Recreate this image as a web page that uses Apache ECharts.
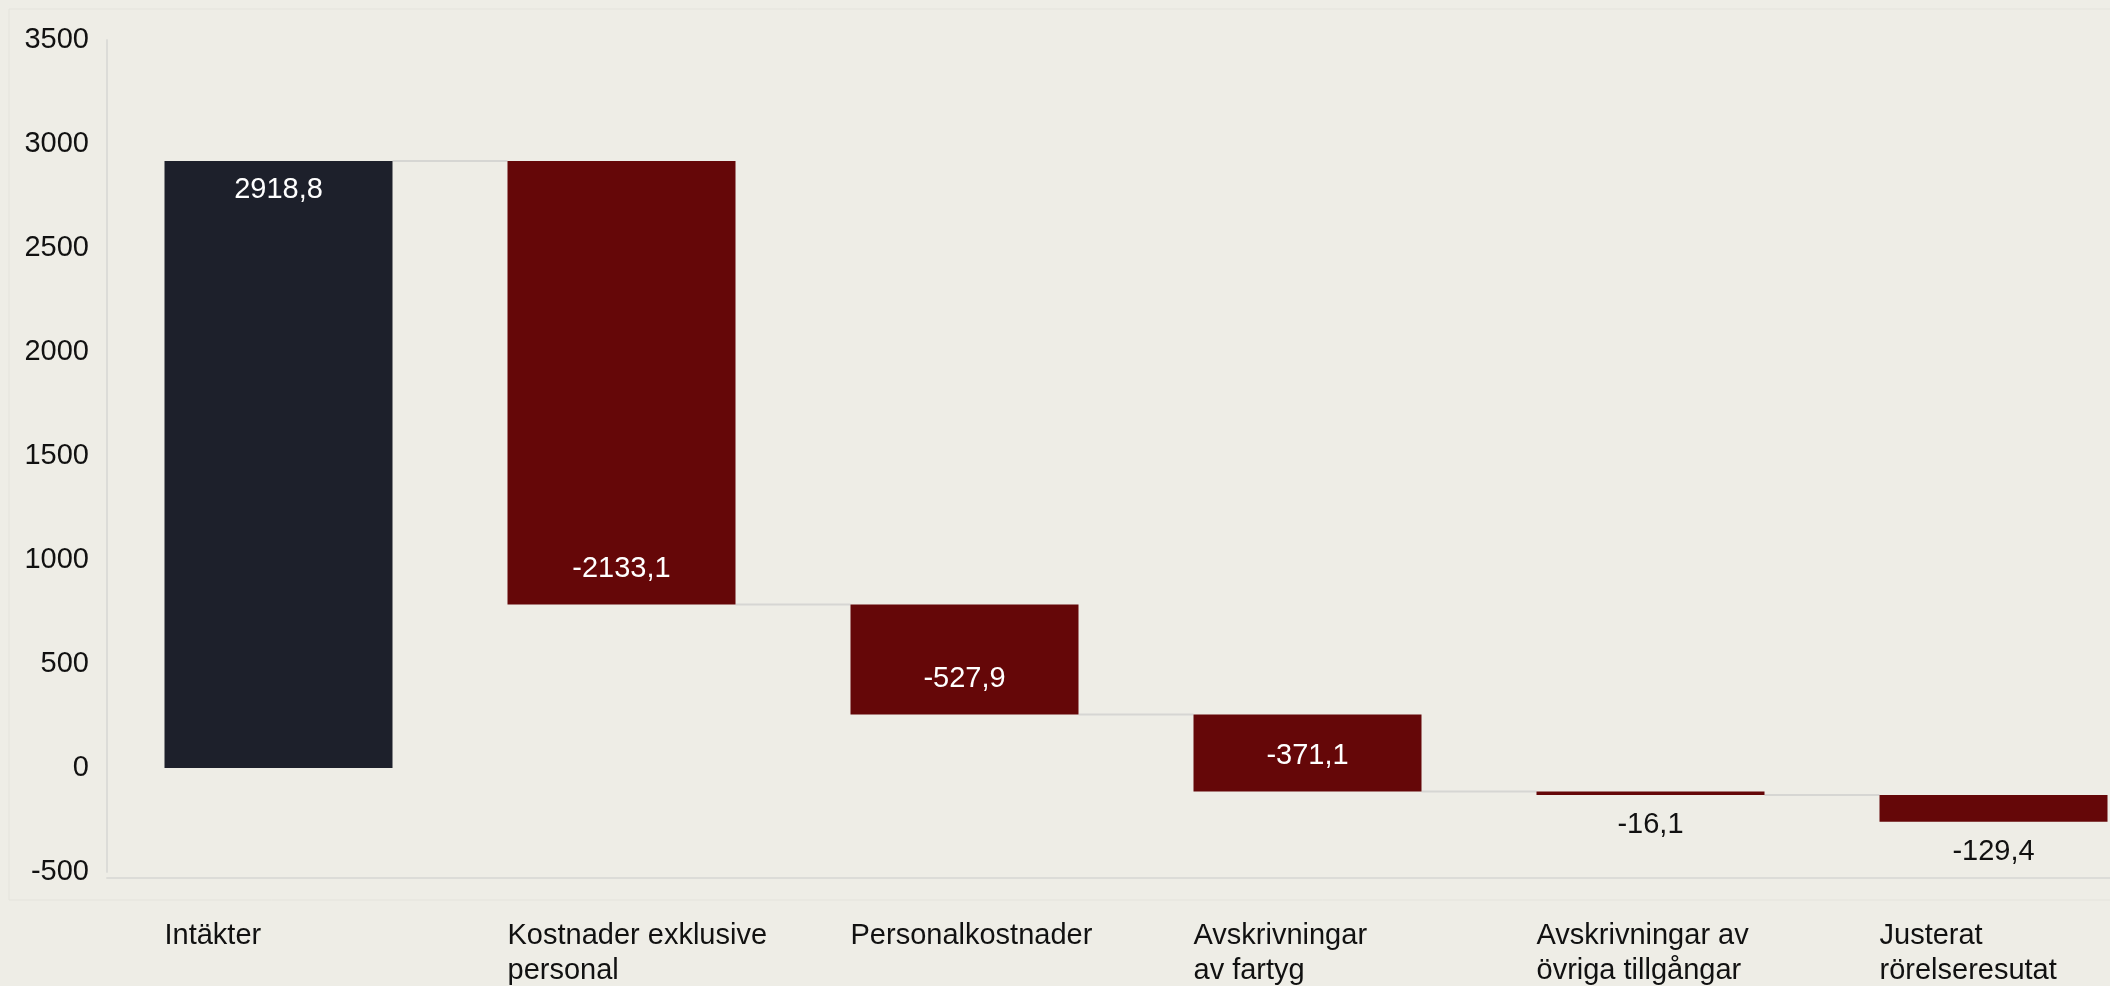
<!DOCTYPE html>
<html>
<head>
<meta charset="utf-8">
<script src="https://cdn.jsdelivr.net/npm/echarts@6/dist/echarts.min.js"></script>
<style>
	html, body { margin: 0; padding: 0; background: #eeede6; }
	#chart { width: 2110px; height: 986px; }
</style>
</head>
<body>
<div id="chart"></div>
<script>
/*
 * Vattenfall: intäkter -> justerat rörelseresultat
 */
var categories = ['Intäkter', 'Kostnader exklusive\npersonal', 'Personalkostnader', 'Avskrivningar\nav fartyg', 'Avskrivningar av\növriga tillgångar', 'Justerat\nrörelseresutat'];
var deltas = [2918.8, -2133.1, -527.9, -371.1, -16.1, -129.4];
var yMin = -500;
var yMax = 3500;
var yStep = 500;

var BAR_W = 228;
var RED = '#650708';
var NAVY = '#1d202b';
var FONT = '"Liberation Sans", Arial, sans-serif';

// bygg bas + synlig del av varje stapel
var baseData = new Array();
var barData = new Array();
var connData = new Array();
var running = 0;
for(var i = 0; i < deltas.length; i++) {
	var d = deltas[i];
	var end = running + d;
	baseData.push(Math.round(Math.min(running, end) * 10) / 10);
	var lbl;
	if(i == 0) {
		lbl = { position: 'insideTop', distance: 15, color: '#ffffff' };
	} else if(Math.abs(d) > 200) {
		lbl = { position: 'insideBottom', distance: 21, color: '#ffffff' };
	} else {
		lbl = { position: 'bottom', distance: 16, color: '#111111' };
	}
	barData.push({
		value: Math.abs(d),
		itemStyle: { color: i == 0 ? NAVY : RED },
		label: lbl
	});
	running = Math.round(end * 10) / 10;
	if(i < deltas.length - 1) {
		connData.push([i, running]);
	}
}

function fmt(v) {
	return v.toFixed(1).replace('.', ',');
}

var ech = echarts.init(document.getElementById('chart'));
var option = {
	backgroundColor: '#eeede6',
	animation: false,
	textStyle: { fontFamily: FONT },
	graphic: [{
		type: 'rect',
		shape: { x: 9, y: 9, width: 2110, height: 891 },
		style: { fill: 'none', stroke: '#e4e3dc', lineWidth: 1 },
		silent: true,
		z: -1
	}],
	grid: {
		left: 107,
		top: 40,
		width: 2058,
		height: 832,
		outerBoundsMode: 'none',
		containLabel: false
	},
	xAxis: [{
		type: 'category',
		data: categories,
		offset: 6,
		axisLine: { show: true, onZero: false, lineStyle: { color: '#dcdcd8', width: 2 } },
		axisTick: { show: false },
		axisLabel: {
			interval: 0,
			margin: 40,
			align: 'center',
			verticalAlign: 'top',
			formatter: function(val) {
				return val.split('\n').map(function(s) { return '{a|' + s + '}'; }).join('\n');
			},
			rich: {
				a: {
					width: BAR_W,
					align: 'left',
					fontSize: 29,
					lineHeight: 35,
					color: '#111111',
					fontFamily: FONT
				}
			}
		}
	}],
	yAxis: [{
		type: 'value',
		min: yMin,
		max: yMax,
		interval: yStep,
		axisLine: { show: true, lineStyle: { color: '#dcdcd8', width: 2 } },
		axisTick: { show: false },
		splitLine: { show: false },
		axisLabel: {
			margin: 18,
			fontSize: 29,
			color: '#111111',
			fontFamily: FONT,
			padding: [4, 0, 0, 0],
			formatter: function(v) {
				return String(v);
			}
		}
	}],
	series: [{
		name: 'bas',
		type: 'bar',
		stack: 'vf',
		stackStrategy: 'all',
		barWidth: BAR_W,
		itemStyle: { color: 'rgba(0,0,0,0)' },
		data: baseData,
		silent: true
	}, {
		name: 'förändring',
		type: 'bar',
		stack: 'vf',
		stackStrategy: 'all',
		barWidth: BAR_W,
		data: barData,
		label: {
			show: true,
			fontSize: 29,
			fontFamily: FONT,
			formatter: function(p) {
				return fmt(deltas[p.dataIndex]);
			}
		}
	}, {
		name: 'linjer',
		type: 'custom',
		data: connData,
		z: 1,
		silent: true,
		renderItem: function(params, api) {
			var idx = api.value(0);
			var lvl = api.value(1);
			var p1 = api.coord([idx, lvl]);
			var p2 = api.coord([idx + 1, lvl]);
			return {
				type: 'line',
				shape: { x1: p1[0] + BAR_W / 2, y1: p1[1], x2: p2[0] - BAR_W / 2, y2: p2[1] },
				style: { stroke: '#d6d6d3', lineWidth: 2 }
			};
		}
	}]
};
ech.setOption(option);
</script>
</body>
</html>
